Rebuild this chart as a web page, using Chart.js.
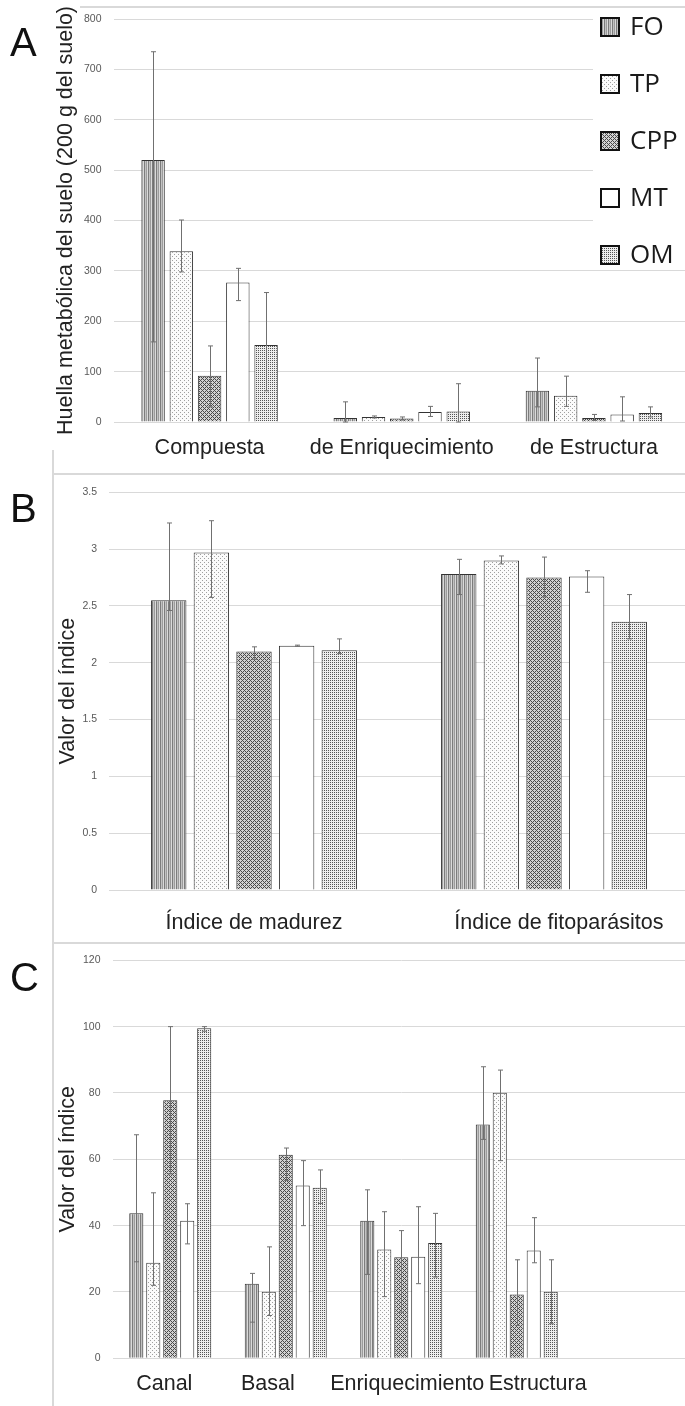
<!DOCTYPE html>
<html>
<head>
<meta charset="utf-8">
<script src="https://cdn.jsdelivr.net/npm/chart.js@4.4.0/dist/chart.umd.min.js"></script>
<style>
  body { margin: 0; background: #fff; }
  #page { position: relative; width: 685px; height: 1406px; overflow: hidden; }
  #page canvas { position: absolute; left: 0; }
  .rule { position: absolute; background: #d9d9d9; }
  .tag { position: absolute; left: 10px; font: 40px "Liberation Sans", Arial, sans-serif; line-height: 1; color: #111; }
</style>
</head>
<body>
<div id="page">
  <div class="rule" style="left:80px;top:6px;width:605px;height:2px"></div>
  <div class="rule" style="left:53px;top:473px;width:632px;height:2px"></div>
  <div class="rule" style="left:53px;top:942px;width:632px;height:2px"></div>
  <div class="rule" style="left:52px;top:450px;width:2px;height:956px"></div>
  <canvas id="chA" width="692" height="460" style="top:0"></canvas>
  <canvas id="chB" width="692" height="460" style="top:474px"></canvas>
  <canvas id="chC" width="692" height="464" style="top:942px"></canvas>
  <div class="tag" style="top:22px">A</div>
  <div class="tag" style="top:488px">B</div>
  <div class="tag" style="top:957px">C</div>
</div>

<script>
// series order: FO, TP, CPP, MT, OM
const series = ['FO', 'TP', 'CPP', 'MT', 'OM'];

// panel A - huella metabolica
const catsA = ['Compuesta', 'de Enriquecimiento', 'de Estructura'];
const meanA = [[520, 8, 62], [339, 10, 52], [92, 7, 8], [277, 20, 15], [153, 21, 18]];
const lowA  = [[159, 0, 30], [298, 8, 31], [30, 4, 3], [241, 11, 2], [62, 0, 10]];
const highA = [[735, 40, 127], [401, 12, 91], [151, 10, 15], [305, 31, 50], [257, 76, 30]];
const ticksA = { max: 800, step: 100 };

// panel B - indices de madurez
const catsB = ['Índice de madurez', 'Índice de fitoparásitos'];
const meanB = [[2.55, 2.78], [2.97, 2.90], [2.10, 2.75], [2.15, 2.76], [2.11, 2.36]];
const lowB  = [[2.46, 2.60], [2.575, 2.87], [2.03, 2.58], [2.145, 2.62], [2.08, 2.21]];
const highB = [[3.23, 2.91], [3.25, 2.94], [2.14, 2.93], [2.155, 2.81], [2.21, 2.60]];
const ticksB = { max: 3.5, step: 0.5 };

// panel C - indices de la red trofica
const catsC = ['Canal', 'Basal', 'Enriquecimiento', 'Estructura', ''];
const meanC = [[43.7, 22.5, 41.5, 70.5], [28.8, 20.1, 32.8, 80.1], [77.8, 61.4, 30.5, 19.2], [41.5, 52.1, 30.6, 32.5], [99.5, 51.4, 34.8, 20.1]];
const lowC  = [[29.1, 10.9, 25.3, 66.0], [22.0, 12.9, 18.6, 59.6], [55.6, 53.6, 13.9, 9.9], [34.5, 40.0, 22.5, 28.8], [98.6, 46.7, 24.5, 10.4]];
const highC = [[67.4, 25.6, 50.8, 87.9], [49.9, 33.6, 44.2, 86.9], [100, 63.4, 38.5, 29.7], [46.6, 59.6, 45.7, 42.4], [100, 56.8, 43.7, 29.7]];
const ticksC = { max: 120, step: 20 };

// little pixel tiles for the hatch fills
function tile(n, fn) {
  const c = document.createElement('canvas');
  c.width = c.height = n;
  const g = c.getContext('2d');
  for (let y = 0; y < n; y++) for (let x = 0; x < n; x++) {
    g.fillStyle = fn(x, y);
    g.fillRect(x, y, 1, 1);
  }
  return g.createPattern(c, 'repeat');
}
const fills = [
  tile(4, (x) => ['#7c7c7c', '#c2c2c2', '#9c9c9c', '#dadada'][x]),
  tile(4, (x, y) => ((x == 0 && y == 0) || (x == 2 && y == 2)) ? '#a0a0a0' : '#fbfbfb'),
  tile(4, (x, y) => ((x + y) % 4 == 0 || (x - y + 4) % 4 == 0) ? '#4a4a4a' : '#d2d2d2'),
  '#ffffff',
  tile(4, (x, y) => (x % 2 == 0 && y % 2 == 0) ? '#555555' : '#eeeeee')
];

const errorBars = {
  id: 'errorBars',
  afterDatasetsDraw(chart) {
    const ctx = chart.ctx, ys = chart.scales.y;
    ctx.save();
    ctx.strokeStyle = '#707070';
    ctx.lineWidth = 1;
    chart.data.datasets.forEach((ds, i) => {
      chart.getDatasetMeta(i).data.forEach((bar, j) => {
        if (ds.errLow[j] == null) return;
        const x = Math.round(bar.x) + 0.5;
        const t = ys.getPixelForValue(ds.errHigh[j]);
        const b = ys.getPixelForValue(ds.errLow[j]);
        ctx.beginPath();
        ctx.moveTo(x, t); ctx.lineTo(x, b);
        ctx.moveTo(x - 2.5, t); ctx.lineTo(x + 2.5, t);
        ctx.moveTo(x - 2.5, b); ctx.lineTo(x + 2.5, b);
        ctx.stroke();
      });
    });
    ctx.restore();
  }
};

// boxed legend of panel A, sitting on a white patch over the grid
const boxLegend = {
  id: 'boxLegend',
  afterDraw(chart, args, opts) {
    if (!opts.show) return;
    const ctx = chart.ctx;
    ctx.save();
    ctx.fillStyle = '#fff';
    ctx.fillRect(593, 9, 100, 256);
    ctx.font = '26px "Open Sans", sans-serif';
    ctx.textBaseline = 'middle';
    chart.data.datasets.forEach((ds, i) => {
      const cy = 27 + i * 57;
      ctx.fillStyle = ds.backgroundColor;
      ctx.fillRect(601, cy - 9, 18, 18);
      ctx.strokeStyle = '#111';
      ctx.lineWidth = 2;
      ctx.strokeRect(601, cy - 9, 18, 18);
      ctx.fillStyle = '#1a1a1a';
      ctx.fillText(ds.label, 630, cy + 1);
    });
    ctx.restore();
  }
};

function panel(id, cats, means, lows, highs, tk, o) {
  return new Chart(document.getElementById(id), {
    type: 'bar',
    data: {
      labels: cats,
      datasets: series.map((s, i) => ({
        label: s,
        data: means[i],
        errLow: lows[i],
        errHigh: highs[i],
        backgroundColor: fills[i],
        borderColor: '#333',
        borderWidth: 1,
        categoryPercentage: 0.735,
        barPercentage: 0.83
      }))
    },
    options: {
      responsive: false,
      animation: false,
      devicePixelRatio: 1,
      layout: { padding: { top: o.top, right: o.right, left: 0, bottom: 0 } },
      plugins: {
        legend: { display: false },
        tooltip: { enabled: false },
        boxLegend: { show: !!o.legend }
      },
      scales: {
        x: {
          grid: { display: false },
          border: { display: false },
          afterFit: (s) => { s.height = o.xh; },
          ticks: {
            padding: o.xpad, autoSkip: false, maxRotation: 0, minRotation: 0,
            color: '#222', font: { family: 'Liberation Sans', size: 21.5 },
            callback: function (v, i) {
              const lab = this.getLabelForValue(v);
              const n = o.shift ? o.shift[i] : 0;
              return n > 0 ? ' '.repeat(n) + lab : (n < 0 ? lab + ' '.repeat(-n) : lab);
            }
          }
        },
        y: {
          min: 0, max: tk.max,
          afterFit: (s) => { s.width = o.left; },
          grid: { color: '#d9d9d9', drawTicks: false },
          border: { display: false },
          ticks: {
            stepSize: tk.step, padding: 12, color: '#595959',
            font: { family: 'Liberation Sans', size: 10.5 },
            callback: (v) => String(+v.toFixed(2))
          },
          title: {
            display: true, text: o.title, color: '#222',
            font: { family: 'Liberation Sans', size: 21.5 },
            padding: { top: o.tpad, bottom: 0 }
          }
        }
      }
    },
    plugins: [errorBars, boxLegend]
  });
}

panel('chA', catsA, meanA, lowA, highA, ticksA,
  { top: 19, right: 2, left: 113.5, xh: 38, xpad: 5, tpad: 53, legend: true,
    title: 'Huella metabólica del suelo (200 g del suelo)' });
panel('chB', catsB, meanB, lowB, highB, ticksB,
  { top: 13, right: 3, left: 109, xh: 44, xpad: 12.5, tpad: 55,
    shift: [0, 5], title: 'Valor del índice' });
panel('chC', catsC, meanC, lowC, highC, ticksC,
  { top: 13.7, right: 2, left: 112.5, xh: 47.7, xpad: 5, tpad: 55,
    shift: [-2, -6, 2, 7, 0], title: 'Valor del índice' });
</script>
</body>
</html>
